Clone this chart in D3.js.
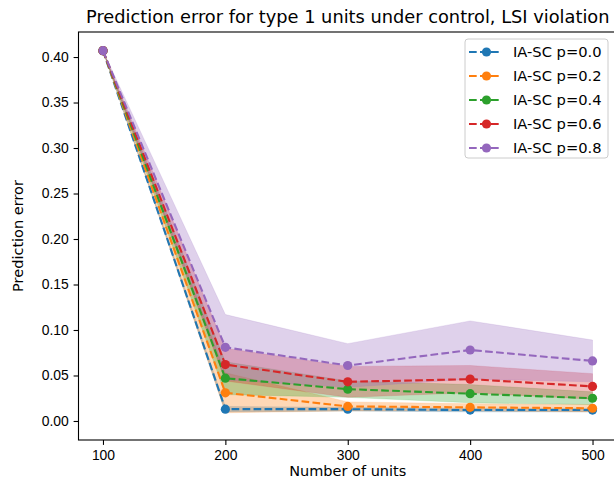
<!DOCTYPE html>
<html>
<head>
<meta charset="utf-8">
<script src="https://cdn.jsdelivr.net/npm/d3@7"></script>
<style>
  body { margin: 0; background: #fff; }
  svg { display: block; font-family: 'DejaVu Sans', sans-serif; }
  .axis text { font-size: 13.9px; fill: #000; }
  .axis line { stroke: #000; stroke-width: 1.1px; }
</style>
</head>
<body>
<svg id="chart" width="614" height="485"></svg>
<script>
'use strict';

var units = [100, 200, 300, 400, 500];
var seriesLabels = ['IA-SC p=0.0', 'IA-SC p=0.2', 'IA-SC p=0.4', 'IA-SC p=0.6', 'IA-SC p=0.8'];
var seriesColors = ['#1f77b4', '#ff7f0e', '#2ca02c', '#d62728', '#9467bd'];

var meanP00 = [0.407, 0.013, 0.013, 0.012, 0.012];
var meanP02 = [0.407, 0.031, 0.016, 0.015, 0.014];
var meanP04 = [0.407, 0.047, 0.035, 0.030, 0.025];
var meanP06 = [0.407, 0.062, 0.043, 0.046, 0.038];
var meanP08 = [0.407, 0.081, 0.061, 0.078, 0.066];

var sdP00 = [0, 0.003, 0.002, 0.002, 0.002];
var sdP02 = [0, 0.022, 0.005, 0.004, 0.004];
var sdP04 = [0, 0.018, 0.009, 0.010, 0.007];
var sdP06 = [0, 0.018, 0.017, 0.015, 0.014];
var sdP08 = [0, 0.036, 0.024, 0.032, 0.023];

var xTicks = [100, 200, 300, 400, 500];
var yTicks = [0, 0.05, 0.10, 0.15, 0.20, 0.25, 0.30, 0.35, 0.40];

var means = [meanP00, meanP02, meanP04, meanP06, meanP08];
var sds = [sdP00, sdP02, sdP04, sdP06, sdP08];

var series = seriesLabels.map(function (label, i) {
  return {
    label: label,
    color: seriesColors[i],
    points: units.map(function (u, j) {
      return { x: u, y: means[i][j], lo: means[i][j] - sds[i][j], hi: means[i][j] + sds[i][j] };
    })
  };
});

var plot = { left: 78.5, right: 617, top: 32, bottom: 440 };

var xScale = d3.scaleLinear()
    .domain([80, 520])
    .range([plot.left, plot.right]);

var yScale = d3.scaleLinear()
    .domain([-0.0209, 0.4275])
    .range([plot.bottom, plot.top]);

var svg = d3.select('#chart');

// Bands
var area = d3.area()
    .x(function (d) { return xScale(d.x); })
    .y0(function (d) { return yScale(d.lo); })
    .y1(function (d) { return yScale(d.hi); });

svg.append('g').selectAll('path')
    .data(series)
  .enter().append('path')
    .attr('d', function (d) { return area(d.points); })
    .attr('fill', function (d) { return d.color; })
    .attr('fill-opacity', 0.3)
    .attr('stroke', function (d) { return d.color; })
    .attr('stroke-opacity', 0.3)
    .attr('stroke-width', 0.5);

// Lines + markers
var line = d3.line()
    .x(function (d) { return xScale(d.x); })
    .y(function (d) { return yScale(d.y); });

var lines = svg.append('g').selectAll('g')
    .data(series)
  .enter().append('g');

lines.append('path')
    .attr('d', function (d) { return line(d.points); })
    .attr('fill', 'none')
    .attr('stroke', function (d) { return d.color; })
    .attr('stroke-width', 2.08)
    .attr('stroke-dasharray', '7.7,3.3');

lines.selectAll('circle')
    .data(function (d) {
      return d.points.map(function (p) { return { p: p, color: d.color }; });
    })
  .enter().append('circle')
    .attr('cx', function (d) { return xScale(d.p.x); })
    .attr('cy', function (d) { return yScale(d.p.y); })
    .attr('r', 4.6)
    .attr('fill', function (d) { return d.color; });

// Axes
svg.append('g')
    .attr('class', 'x axis')
    .attr('transform', 'translate(0,' + plot.bottom + ')')
    .call(d3.axisBottom(xScale).tickValues(xTicks).tickSize(4.9).tickPadding(4.9).tickSizeOuter(0))
    .call(function (g) { g.select('.domain').remove(); });

svg.append('g')
    .attr('class', 'y axis')
    .attr('transform', 'translate(' + plot.left + ',0)')
    .call(d3.axisLeft(yScale).tickValues(yTicks).tickFormat(d3.format('.2f')).tickSize(4.9).tickPadding(4.9).tickSizeOuter(0))
    .call(function (g) { g.select('.domain').remove(); });

// Frame
svg.append('rect')
    .attr('x', plot.left)
    .attr('y', plot.top)
    .attr('width', plot.right - plot.left)
    .attr('height', plot.bottom - plot.top)
    .attr('fill', 'none')
    .attr('stroke', '#000')
    .attr('stroke-width', 1.1);

// Labels
svg.append('text')
    .attr('x', (plot.left + plot.right) / 2)
    .attr('y', 22.5)
    .attr('text-anchor', 'middle')
    .style('font-size', '17.8px')
    .text('Prediction error for type 1 units under control, LSI violation');

svg.append('text')
    .attr('x', (plot.left + plot.right) / 2)
    .attr('y', 476)
    .attr('text-anchor', 'middle')
    .style('font-size', '14.5px')
    .text('Number of units');

svg.append('text')
    .attr('transform', 'translate(23,' + ((plot.top + plot.bottom) / 2) + ') rotate(-90)')
    .attr('text-anchor', 'middle')
    .style('font-size', '14.5px')
    .text('Prediction error');

// Legend
var legend = svg.append('g').attr('transform', 'translate(465,39)');

legend.append('rect')
    .attr('width', 143)
    .attr('height', 119)
    .attr('rx', 3)
    .attr('fill', '#fff')
    .attr('fill-opacity', 0.8)
    .attr('stroke', '#ccc');

var items = legend.selectAll('g.item')
    .data(series)
  .enter().append('g')
    .attr('class', 'item')
    .attr('transform', function (d, i) { return 'translate(0,' + (13 + i * 24) + ')'; });

items.append('line')
    .attr('x1', 4)
    .attr('x2', 35)
    .attr('stroke', function (d) { return d.color; })
    .attr('stroke-width', 2.08)
    .attr('stroke-dasharray', '7.7,3.3');

items.append('circle')
    .attr('cx', 21.5)
    .attr('r', 4.6)
    .attr('fill', function (d) { return d.color; });

items.append('text')
    .attr('x', 48)
    .attr('dy', '0.35em')
    .style('font-size', '14.7px')
    .text(function (d) { return d.label; });
</script>
</body>
</html>
